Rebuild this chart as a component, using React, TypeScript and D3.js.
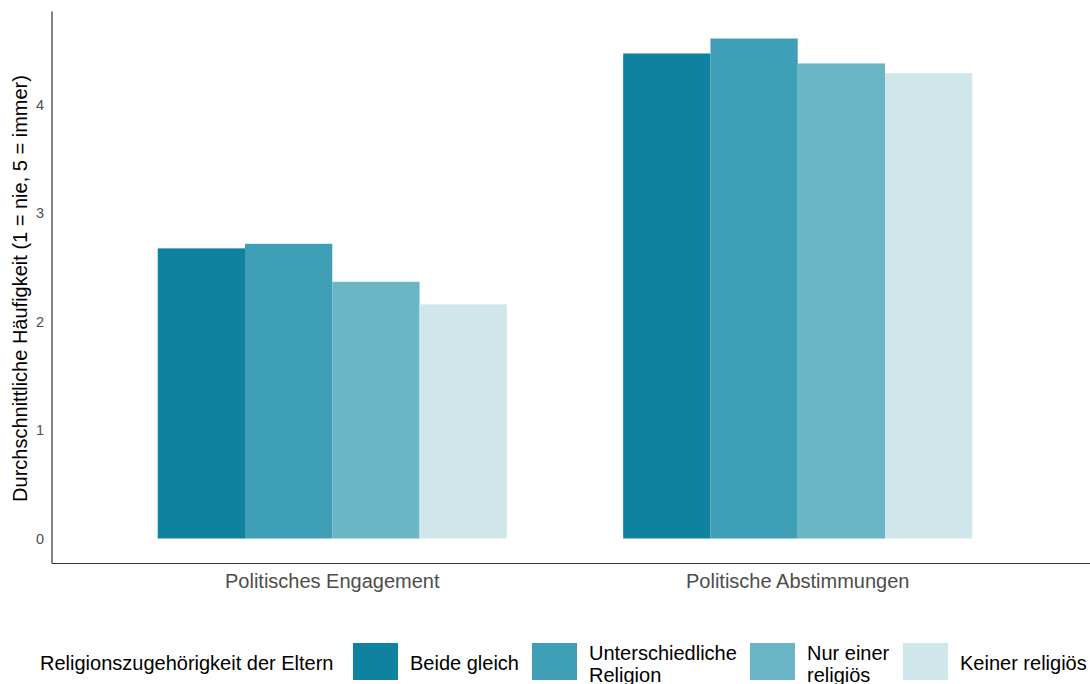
import * as d3 from 'd3';

const width = 1090;
const height = 684;

const categories = ['Politisches Engagement', 'Politische Abstimmungen'];
const series = ['Beide gleich', 'Unterschiedliche Religion', 'Nur einer religiös', 'Keiner religiös'];
const legendLines = [['Beide gleich'], ['Unterschiedliche', 'Religion'], ['Nur einer', 'religiös'], ['Keiner religiös']];
const colors = ['#0e829f', '#3e9fb6', '#6bb6c6', '#cfe7eb'];
const engagementValues = [2.675, 2.717, 2.367, 2.159];
const abstimmungValues = [4.472, 4.61, 4.38, 4.29];
const yTicks = [0, 1, 2, 3, 4];
const yTitle = 'Durchschnittliche Häufigkeit (1 = nie, 5 = immer)';
const legendTitle = 'Religionszugehörigkeit der Eltern';

const rows = [engagementValues, abstimmungValues];

// panel
const left = 52;
const top = 13.5;
const bottom = 563.5;
const panelRight = 1077;

const font = 'Liberation Sans, Arial, sans-serif';

export default function App() {
  const yMax = d3.max(rows.flat()) as number;
  const y = d3
    .scaleLinear()
    .domain([-yMax * 0.05, yMax * 1.05])
    .range([bottom, top]);

  const x = d3.scalePoint<string>().domain(categories).range([left + 1, panelRight]).padding(0.6);
  const groupW = x.step() * 0.75;
  const xInner = d3.scaleBand<string>().domain(series).range([-groupW / 2, groupW / 2]);

  const legendKeyX = [353, 532, 750, 903];

  return (
    <svg
      width={width}
      height={height}
      style={{ position: 'absolute', left: 0, top: 0, background: '#fff' }}
      fontFamily={font}
    >
      {/* bars */}
      {categories.map((cat, ci) => (
        <g key={cat} transform={`translate(${x(cat)},0)`}>
          {series.map((s, si) => (
            <rect
              key={s}
              x={xInner(s)}
              width={xInner.bandwidth()}
              y={y(rows[ci][si])}
              height={y(0) - y(rows[ci][si])}
              fill={colors[si]}
            />
          ))}
        </g>
      ))}

      {/* axes */}
      <line x1={left} x2={left} y1={top - 2} y2={bottom} stroke="#333" strokeWidth={1.2} />
      <line x1={left} x2={width} y1={bottom} y2={bottom} stroke="#333" strokeWidth={1.2} />

      {yTicks.map((t) => (
        <text key={t} x={44} y={y(t)} dy="0.35em" textAnchor="end" fontSize={14.5} fill="#4d4d4d">
          {t}
        </text>
      ))}
      {categories.map((c) => (
        <text key={c} x={x(c)} y={588} textAnchor="middle" fontSize={20} fill="#4d4d4d">
          {c}
        </text>
      ))}
      <text
        transform={`translate(27,${(top + bottom) / 2 - 0}) rotate(-90)`}
        textAnchor="middle"
        fontSize={20}
        fill="#000"
      >
        {yTitle}
      </text>

      {/* legend */}
      <text x={40} y={670} fontSize={20} fill="#000">
        {legendTitle}
      </text>
      {series.map((s, si) => {
        const lx = legendKeyX[si];
        const lines = legendLines[si];
        return (
          <g key={s}>
            <rect x={lx} y={643} width={45} height={37} fill={colors[si]} />
            {lines.map((ln, li) => (
              <text
                key={ln}
                x={lx + 57}
                y={lines.length === 1 ? 670 : 660 + li * 21.5}
                fontSize={20}
                fill="#000"
              >
                {ln}
              </text>
            ))}
          </g>
        );
      })}
    </svg>
  );
}
